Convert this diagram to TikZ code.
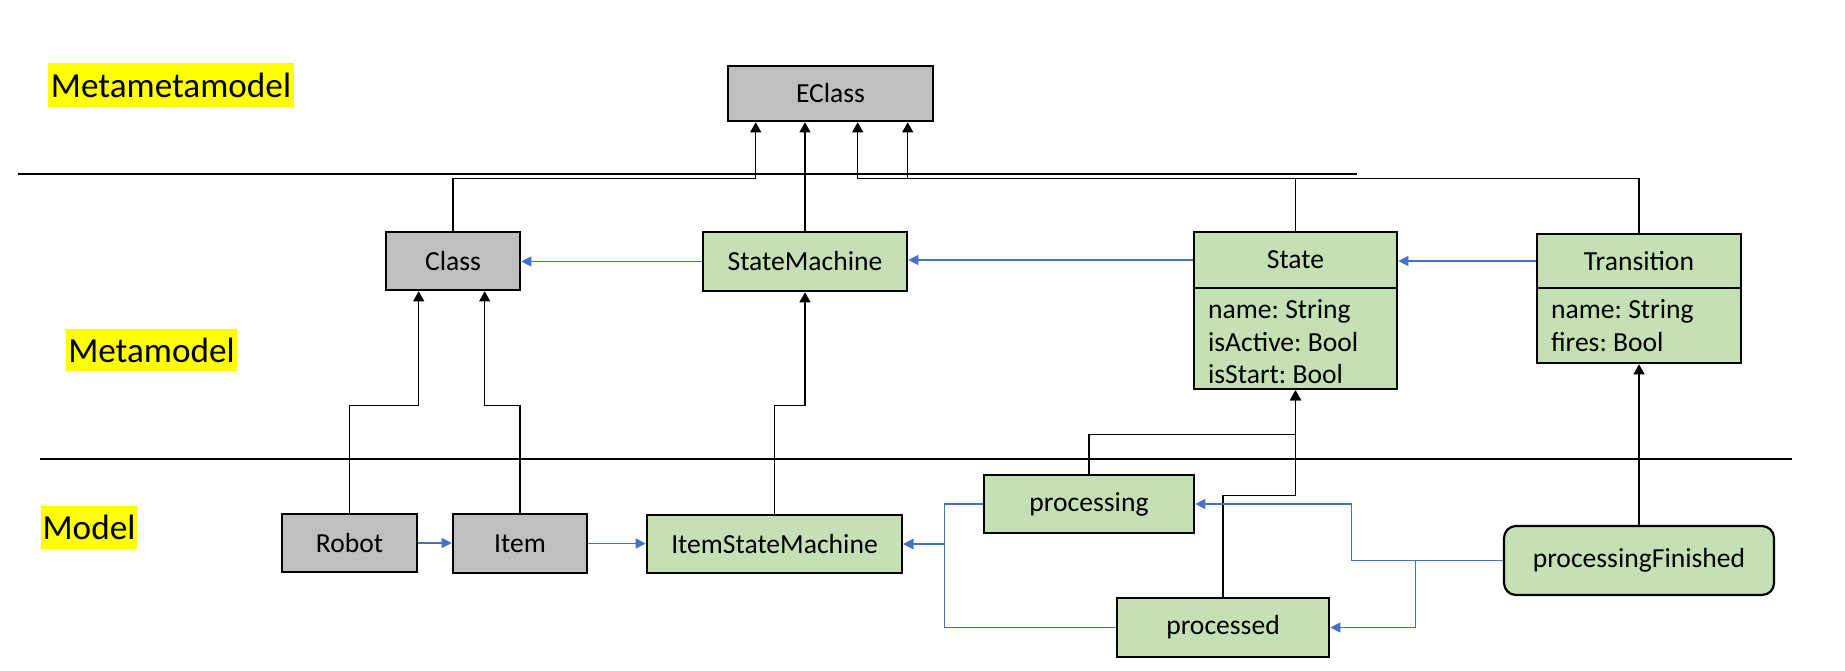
\documentclass[tikz,border=0pt]{standalone}
\usepackage{fontspec}
\setmainfont{Carlito}
\usetikzlibrary{arrows.meta,calc}
\definecolor{boxgray}{HTML}{BFBFBF}
\definecolor{boxgreen}{HTML}{C5E0B4}
\definecolor{linkblue}{HTML}{4472C4}
\definecolor{hlyellow}{HTML}{FFFF00}
\frenchspacing
\begin{document}
\begin{tikzpicture}[x=0.5pt,y=-0.5pt,
  every node/.style={font=\fontsize{13.8}{16.5}\selectfont, inner sep=0pt},
  graybox/.style={draw=black, line width=1.3pt, fill=boxgray},
  greenbox/.style={draw=black, line width=1.3pt, fill=boxgreen},
  attrtext/.style={anchor=base west},
  levellabel/.style={fill=hlyellow, font=\fontsize{17.6}{20}\selectfont},
  inh/.style={draw=black, line width=0.6pt, -{Triangle[width=5.5pt,length=5pt]}},
  assoc/.style={draw=linkblue, line width=0.55pt, -{Triangle[width=5pt,length=5pt]}},
  sepline/.style={draw=black, line width=0.7pt}]
\useasboundingbox (0,0) rectangle (1845,670);

% level labels
\node[levellabel, minimum width=123pt, minimum height=22pt] (lblMMM) at (171,85) {Metametamodel};
\node[levellabel, minimum width=85.5pt, minimum height=21pt] (lblMM) at (151.5,350) {Metamodel};
\node[levellabel, minimum width=48pt, minimum height=21.5pt] (lblM) at (89,527.5) {Model};

% separators
\coordinate (s1a) at (18,174);
\coordinate (s1b) at (1357,174);
\coordinate (s2a) at (40,459);
\coordinate (s2b) at (1792,459);
\draw[sepline] (s1a) -- (s1b);
\draw[sepline] (s2a) -- (s2b);

% metametamodel
\node[graybox, minimum width=102.5pt, minimum height=27.5pt] (EClass) at (830.5,93.5) {EClass};

% metamodel
\node[graybox, minimum width=67pt, minimum height=29pt] (Class) at (453,261) {Class};
\node[greenbox, minimum width=102pt, minimum height=29.5pt] (SM) at (805,261.5) {StateMachine};
\node[greenbox, minimum width=101.5pt, minimum height=28pt] (StateHead) at (1295.5,260) {State};
\node[greenbox, minimum width=101.5pt, minimum height=50.5pt] (StateAttr) at (1295.5,338.5) {};
\node[attrtext] (sa1) at ($(StateAttr.north west)+(15,32)$) {name: String};
\node[attrtext] (sa2) at ($(StateAttr.north west)+(15,64.5)$) {isActive: Bool};
\node[attrtext] (sa3) at ($(StateAttr.north west)+(15,97)$) {isStart: Bool};
\node[greenbox, minimum width=102pt, minimum height=27pt] (TransHead) at (1639,261) {Transition};
\node[greenbox, minimum width=102pt, minimum height=37.5pt] (TransAttr) at (1639,325.5) {};
\node[attrtext] (ta1) at ($(TransAttr.north west)+(15,32)$) {name: String};
\node[attrtext] (ta2) at ($(TransAttr.north west)+(15,65)$) {fires: Bool};

% model
\node[graybox, minimum width=67.5pt, minimum height=29pt] (Robot) at (349.5,543) {Robot};
\node[graybox, minimum width=67pt, minimum height=29.5pt] (Item) at (520,543.5) {Item};
\node[greenbox, minimum width=127.5pt, minimum height=29pt] (ISM) at (774.5,544) {ItemStateMachine};
\node[greenbox, minimum width=105pt, minimum height=29pt] (processing) at (1089,504) {processing};
\node[greenbox, minimum width=106pt, minimum height=29.5pt] (processed) at (1223,627.5) {processed};
\node[greenbox, line width=1.1pt, rounded corners=6pt, minimum width=135pt, minimum height=34.5pt] (pF) at (1639,560.5) {processingFinished};

% instance-of connectors to EClass
\draw[inh] (Class.north) |- ($(EClass.south west)+(29,56)$) -- ($(EClass.south west)+(29,0)$);
\draw[inh] (SM.north) -- (SM.north |- EClass.south);
\draw[inh] (StateHead.north) |- ($(EClass.south west)+(131,56)$) -- ($(EClass.south west)+(131,0)$);
\draw[inh] (TransHead.north) |- ($(EClass.south west)+(181,56)$) -- ($(EClass.south west)+(181,0)$);

% instance-of connectors model -> metamodel
\draw[inh] (Robot.north) |- ($(Class.south west)+(34,114)$) -- ($(Class.south west)+(34,0)$);
\draw[inh] (Item.north) |- ($(Class.south west)+(100,114)$) -- ($(Class.south west)+(100,0)$);
\draw[inh] (ISM.north) |- ($(SM.south)+(0,113)$) -- (SM.south);
\draw[inh] (processing.north) |- ($(StateAttr.south)+(0,44)$) -- (StateAttr.south);
\draw[inh] (processed.north) |- ($(StateAttr.south)+(0,105)$) -- (StateAttr.south);
\draw[inh] (pF.north) -- (TransAttr.south);

% references (blue)
\draw[assoc] (SM.west) -- (SM.west -| Class.east);
\draw[assoc] (StateHead.west) -- (StateHead.west -| SM.east);
\draw[assoc] (TransHead.west) -- (TransHead.west -| StateHead.east);
\draw[assoc] (Robot.east) -- (Robot.east -| Item.west);
\draw[assoc] (Item.east) -- (Item.east -| ISM.west);
\draw[assoc] (processing.west) -| ($(ISM.east)+(41,0)$) -- (ISM.east);
\draw[assoc] (processed.west) -| ($(ISM.east)+(41,0)$) -- (ISM.east);
\draw[assoc] (pF.west) -| ($(processing.east)+(156,0)$) -- (processing.east);
\draw[assoc] (pF.west) -- ++(-87,0) |- (processed.east);
\end{tikzpicture}
\end{document}
